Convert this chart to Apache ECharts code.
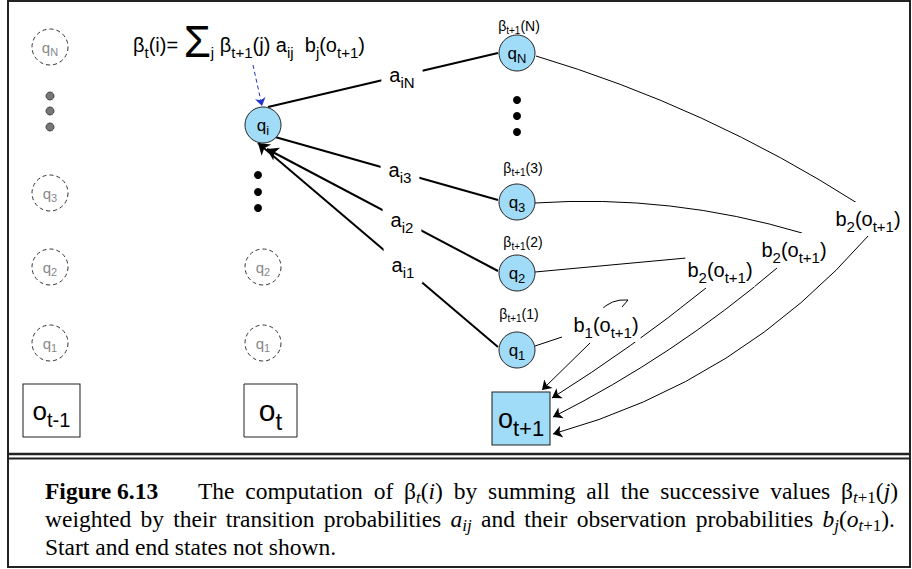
<!DOCTYPE html>
<html>
<head>
<meta charset="utf-8">
<script src="https://cdn.jsdelivr.net/npm/echarts@6/dist/echarts.min.js"></script>
<style>
html, body { margin: 0; padding: 0; background: #fff; }
#main { width: 912px; height: 569px; }
</style>
</head>
<body>
<div id="main"></div>
<script>
// ---- diagram data (page pixel coordinates, y grows downward) ----
// states: q_i at time t, q_N..q_1 at time t+1
const stateSubs = ['i', 'N', '3', '2', '1'];
const stateX = [263, 517, 517, 517, 517];
const stateY = [125, 53, 202, 273, 350];

// faded states at t-1 and t
const ghostSubs = ['N', '3', '2', '1', '2', '1'];
const ghostX = [50, 50, 50, 50, 263, 263];
const ghostY = [47, 193, 267, 343, 267, 343];

// vertical ellipsis dots
const grayDotX = [50, 50, 50];
const grayDotY = [96, 111, 127];
const dotX = [258, 258, 258, 517, 517, 517];
const dotY = [175, 192, 208, 100, 116, 132];

// beta_{t+1}(j) captions over the t+1 states
const betaArgs = ['N', '3', '2', '1'];
const betaX = [519, 523, 523, 519];
const betaY = [26, 168, 242, 314];

// observations o_{t-1}, o_t, o_{t+1}
const obsSubs = ['t-1', 't', 't+1'];
const obsX = [51.5, 270.5, 521];
const obsY = [410.5, 410.5, 418.5];

// transitions a_ij between q_i and the t+1 states
const transSubs = ['iN', 'i3', 'i2', 'i1'];
const transFrom = [[268, 107], [268, 135], [498, 271], [498, 347]];
const transTo = [[498, 53], [498, 200], [267, 149], [258, 143]];
const transArrow = [false, false, true, true];
const transLabelX = [402, 400, 402, 403];
const transLabelY = [75, 170, 220, 265];

// emissions b_j(o_{t+1}): state -> label, label -> o_{t+1}
const emitSubs = ['1', '2', '2', '2'];
const emitLabelX = [606, 720, 794, 868];
const emitLabelY = [325, 270, 250, 219];
const emitInFrom = [[535, 346], [535, 272], [535, 203], [536, 56]];
const emitInTo = [[562, 337], [708, 256], [802, 233], [857, 203]];
const emitInBend = [0, 0, 0.09, 0.07];
const emitOutFrom = [[590, 343], [706, 288], [777, 268], [869, 235]];
const emitOutTo = [[542, 390], [552, 398], [553, 417], [553, 434]];
const emitOutBend = [0, 0.03, 0.06, 0.15];

// caption lines: [style, text] runs
const captionHead = 'Figure 6.13';
const captionLine1 = [['r', 'The computation of β'], ['si', 't'], ['r', '('], ['i', 'i'],
    ['r', ') by summing all the successive values β'], ['si', 't'], ['sr', '+1'], ['r', '('], ['i', 'j'], ['r', ')']];
const captionLine2 = [['r', 'weighted by their transition probabilities '], ['i', 'a'], ['si', 'ij'],
    ['r', ' and their observation probabilities '], ['i', 'b'], ['si', 'j'], ['r', '('], ['i', 'o'],
    ['si', 't'], ['sr', '+1'], ['r', ').']];
const captionLine3 = 'Start and end states not shown.';

// ---- drawing ----
const sans = '"Liberation Sans", Arial, Helvetica, sans-serif';
const serif = '"Liberation Serif", "Times New Roman", serif';
const blue = '#a0dcf8';
const capSize = 23.5;
const capSub = 17;

function subRich(main, sub, color, pad) {
    return {
        m: { fontSize: main, fontFamily: sans, color: color },
        s: { fontSize: sub, fontFamily: sans, color: color, padding: [pad, 0, 0, 0] },
        big: { fontSize: main * 2.2, fontFamily: sans, color: color, padding: [0, 0, 8, 0] }
    };
}

const capRich = {
    r: { fontSize: capSize, fontFamily: serif, fill: '#000' },
    i: { fontSize: capSize, fontFamily: serif, fontStyle: 'italic', fill: '#000' },
    si: { fontSize: capSub, fontFamily: serif, fontStyle: 'italic', fill: '#000', padding: [13, 0, 0, 0] },
    sr: { fontSize: capSub, fontFamily: serif, fill: '#000', padding: [13, 0, 0, 0] }
};

const measureCtx = document.createElement('canvas').getContext('2d');
function runFont(style) {
    let s = capRich[style];
    return (s.fontStyle === 'italic' ? 'italic ' : '') + s.fontSize + 'px ' + serif;
}

// build a rich string whose spaces are stretched so the line fills the width
function justify(runs, targetWidth) {
    let pieces = [];
    let wordWidth = 0;
    let spaces = 0;
    runs.forEach(function (run) {
        let parts = run[1].split(' ');
        parts.forEach(function (p, k) {
            if (k > 0) {
                pieces.push(null);
                spaces++;
            }
            if (p.length) {
                pieces.push([run[0], p]);
                measureCtx.font = runFont(run[0]);
                wordWidth += measureCtx.measureText(p).width;
            }
        });
    });
    let gap = spaces ? (targetWidth - wordWidth) / spaces : 0;
    let rich = Object.assign({}, capRich, { sp: { fontSize: capSize, fontFamily: serif, width: gap } });
    let text = pieces.map(function (p) {
        return p === null ? '{sp| }' : '{' + p[0] + '|' + p[1] + '}';
    }).join('');
    return { text: text, rich: rich };
}

const chart = echarts.init(document.getElementById('main'), null, { renderer: 'svg' });

let transPlain = [];
let transArrowed = [];
for (let i = 0; i < transSubs.length; i++) {
    let item = { coords: [transFrom[i], transTo[i]] };
    if (transArrow[i]) {
        transArrowed.push(item);
    } else {
        transPlain.push(item);
    }
}

let emitIn = [];
let emitOut = [];
for (let i = 0; i < emitSubs.length; i++) {
    emitIn.push({ coords: [emitInFrom[i], emitInTo[i]], lineStyle: { curveness: emitInBend[i] } });
    emitOut.push({ coords: [emitOutFrom[i], emitOutTo[i]], lineStyle: { curveness: emitOutBend[i] } });
}
// the little hook poking above the b1 label
emitIn.push({ coords: [[600, 311], [628, 300]], lineStyle: { curveness: 0.25 } });
emitIn.push({ coords: [[628, 300], [622, 307]], lineStyle: { curveness: 0 } });

const stateData = stateX.map((x, i) => ({
    value: [x, stateY[i]],
    label: { formatter: '{m|q}{s|' + stateSubs[i] + '}' }
}));
const ghostData = ghostX.map((x, i) => ({
    value: [x, ghostY[i]],
    label: { formatter: '{m|q}{s|' + ghostSubs[i] + '}' }
}));
const betaData = betaX.map((x, i) => ({
    value: [x, betaY[i]],
    label: { formatter: '{m|β}{s|t+1}{m|(' + betaArgs[i] + ')}' }
}));
const obsSize = [[57, 53], [53, 53], [58, 53]];
const obsFont = [[26, 20, 18], [30, 24, 22], [27, 22, 20]];
const obsData = obsX.map((x, i) => ({
    value: [x, obsY[i]],
    symbolSize: obsSize[i],
    itemStyle: { color: i === 2 ? blue : '#fff' },
    label: {
        formatter: '{m|o}{s|' + obsSubs[i] + '}',
        rich: subRich(obsFont[i][0], obsFont[i][1], '#000', obsFont[i][2])
    }
}));
const transLabelData = transLabelX.map((x, i) => ({
    value: [x, transLabelY[i]],
    label: { formatter: '{m|a}{s|' + transSubs[i] + '}' }
}));
const emitLabelData = emitLabelX.map((x, i) => ({
    value: [x, emitLabelY[i]],
    label: { formatter: '{m|b}{s|' + emitSubs[i] + '}{m|(o}{s|t+1}{m|)}' }
}));

const line1 = justify(captionLine1, 700);
const line2 = justify(captionLine2, 850);

function textSeries(name, data, label) {
    return {
        name: name,
        type: 'scatter',
        z: 10,
        symbolSize: 0,
        itemStyle: { opacity: 1 },
        label: Object.assign({ show: true, position: 'inside' }, label),
        data: data
    };
}

const option = {
    animation: false,
    grid: { left: 0, top: 0, width: 912, height: 569 },
    xAxis: { type: 'value', min: 0, max: 912, show: false },
    yAxis: { type: 'value', min: 0, max: 569, inverse: true, show: false },
    series: [
        {
            name: 'transitions',
            type: 'lines',
            coordinateSystem: 'cartesian2d',
            z: 2,
            symbol: 'none',
            lineStyle: { color: '#000', width: 2, opacity: 1 },
            data: transPlain
        },
        {
            name: 'transitions in',
            type: 'lines',
            coordinateSystem: 'cartesian2d',
            z: 2,
            symbol: ['none', 'arrow'],
            symbolSize: 11,
            lineStyle: { color: '#000', width: 2, opacity: 1 },
            data: transArrowed
        },
        {
            name: 'emission to label',
            type: 'lines',
            coordinateSystem: 'cartesian2d',
            z: 2,
            symbol: 'none',
            lineStyle: { color: '#000', width: 1, opacity: 1 },
            data: emitIn
        },
        {
            name: 'emission to obs',
            type: 'lines',
            coordinateSystem: 'cartesian2d',
            z: 2,
            symbol: ['none', 'arrow'],
            symbolSize: 9,
            lineStyle: { color: '#000', width: 1, opacity: 1 },
            data: emitOut
        },
        {
            name: 'sum pointer',
            type: 'lines',
            coordinateSystem: 'cartesian2d',
            z: 2,
            symbol: ['none', 'arrow'],
            symbolSize: 8,
            lineStyle: { color: '#1f33c8', width: 1, type: [4, 3], opacity: 1 },
            data: [{ coords: [[253, 65], [262, 106]] }]
        },
        {
            name: 'ghost states',
            type: 'scatter',
            z: 3,
            symbol: 'circle',
            symbolSize: 36,
            itemStyle: { color: '#fff', borderColor: '#333', borderWidth: 1, borderType: [4, 3], opacity: 1 },
            label: { show: true, position: 'inside', rich: subRich(15, 11, '#888', 10) },
            data: ghostData
        },
        {
            name: 'states',
            type: 'scatter',
            z: 3,
            symbol: 'circle',
            symbolSize: 36,
            itemStyle: { color: blue, borderColor: '#222', borderWidth: 1, opacity: 1 },
            label: { show: true, position: 'inside', rich: subRich(17, 13, '#000', 11) },
            data: stateData
        },
        {
            name: 'gray dots',
            type: 'scatter',
            z: 3,
            symbolSize: 8,
            itemStyle: { color: '#777', borderColor: '#444', borderWidth: 1, opacity: 1 },
            data: grayDotX.map((x, i) => [x, grayDotY[i]])
        },
        {
            name: 'dots',
            type: 'scatter',
            z: 3,
            symbolSize: 8,
            itemStyle: { color: '#000', opacity: 1 },
            data: dotX.map((x, i) => [x, dotY[i]])
        },
        {
            name: 'observations',
            type: 'scatter',
            z: 3,
            symbol: 'rect',
            itemStyle: { borderColor: '#222', borderWidth: 1, opacity: 1 },
            label: { show: true, position: 'inside' },
            data: obsData
        },
        textSeries('betas', betaData, { rich: subRich(14, 10, '#000', 9) }),
        textSeries('a labels', transLabelData, {
            backgroundColor: '#fff', padding: [3, 8], rich: subRich(20, 15, '#000', 15)
        }),
        textSeries('b labels', emitLabelData, {
            backgroundColor: '#fff', padding: [2, 2], rich: subRich(20, 15, '#000', 15)
        }),
        textSeries('formula', [[133, 45]], {
            position: 'right', distance: 0,
            formatter: '{m|β}{s|t}{m|(i)= }{big|Σ}{s|j}{m| β}{s|t+1}{m|(j) a}{s|ij}{m|  b}{s|j}{m|(o}{s|t+1}{m|)}',
            rich: subRich(20, 15, '#000', 15)
        })
    ],
    graphic: [
        { type: 'rect', z: 100, shape: { x: 8, y: 1, width: 902, height: 566 }, style: { fill: 'none', stroke: '#222', lineWidth: 2 } },
        { type: 'line', z: 100, shape: { x1: 8, y1: 454, x2: 910, y2: 454 }, style: { stroke: '#222', lineWidth: 2.5 } },
        { type: 'line', z: 100, shape: { x1: 8, y1: 458.5, x2: 910, y2: 458.5 }, style: { stroke: '#222', lineWidth: 2 } },
        {
            type: 'text', z: 100, x: 45, y: 491,
            style: {
                text: captionHead, verticalAlign: 'middle',
                fontSize: capSize, fontFamily: serif, fontWeight: 'bold', fill: '#000'
            }
        },
        { type: 'text', z: 100, x: 198, y: 491, style: { text: line1.text, rich: line1.rich, verticalAlign: 'middle' } },
        { type: 'text', z: 100, x: 45, y: 519, style: { text: line2.text, rich: line2.rich, verticalAlign: 'middle' } },
        {
            type: 'text', z: 100, x: 45, y: 547,
            style: { text: captionLine3, verticalAlign: 'middle', fontSize: capSize, fontFamily: serif, fill: '#000' }
        }
    ]
};

chart.setOption(option);
window.addEventListener('resize', function () {
    chart.resize();
});
</script>
</body>
</html>
